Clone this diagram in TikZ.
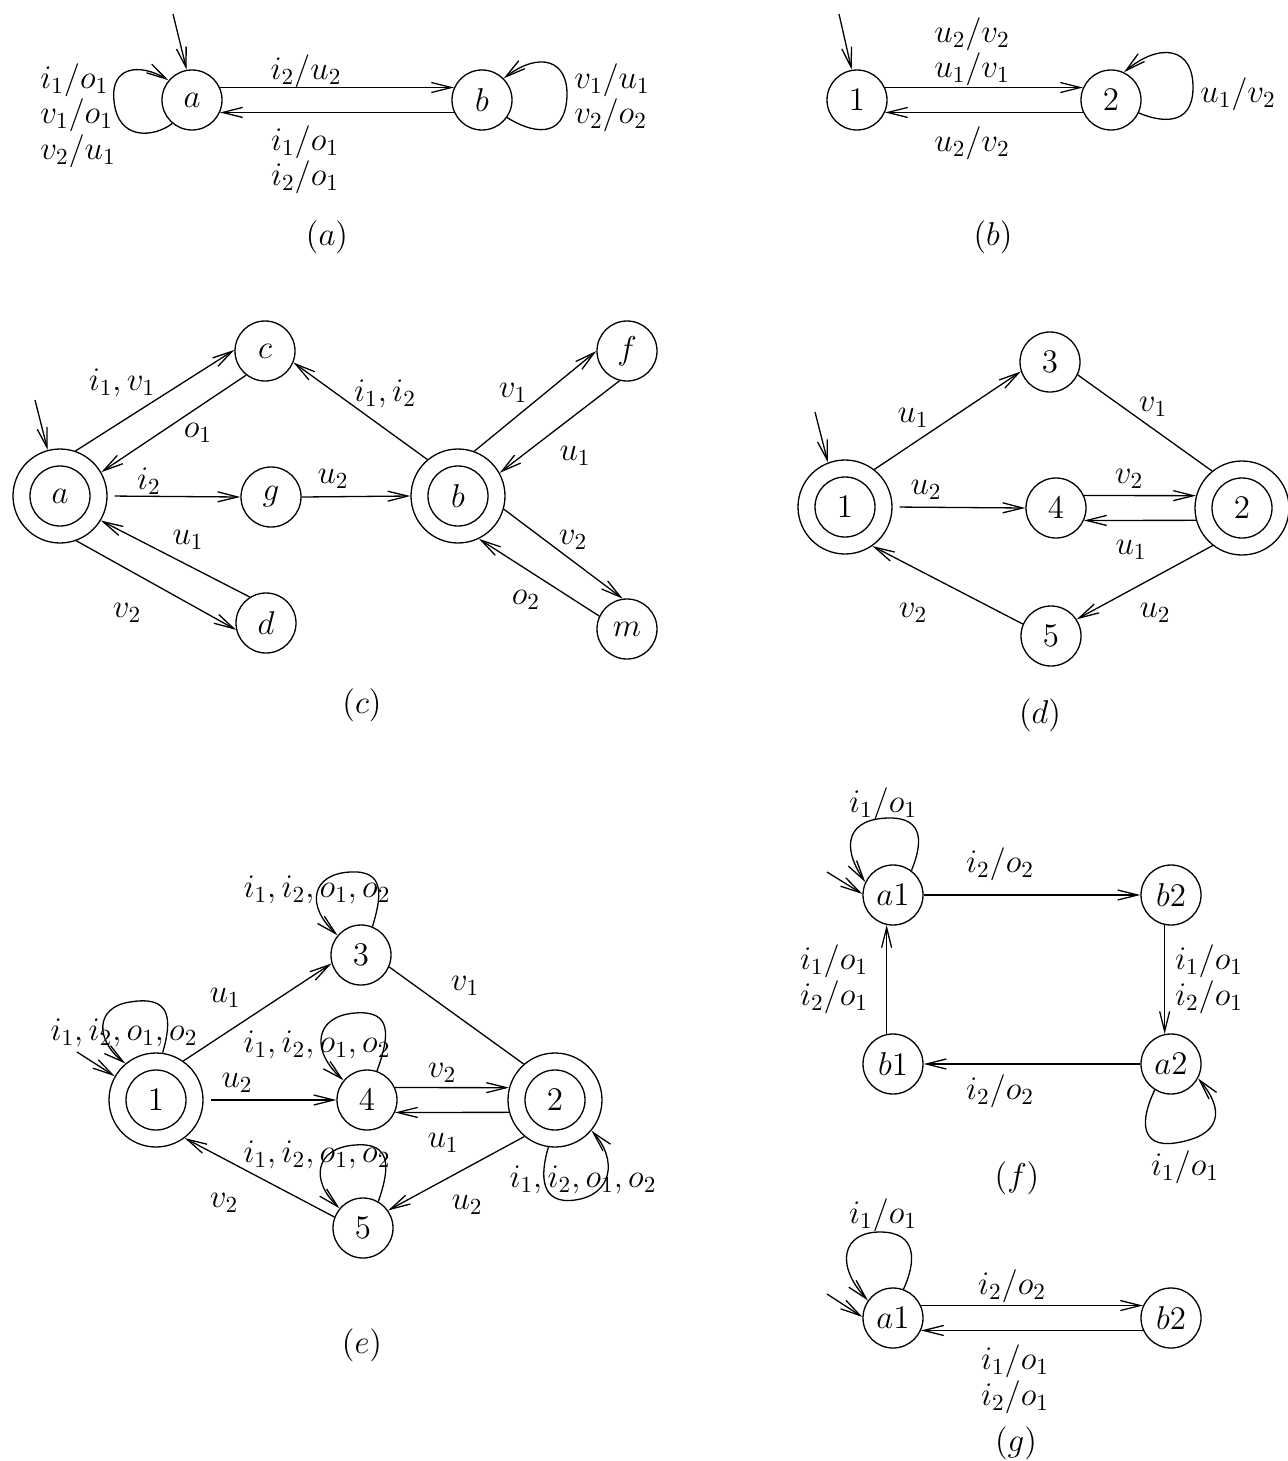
\RequirePackage{fix-cm}
\documentclass[tikz,border=0pt]{standalone}
\usetikzlibrary{arrows.meta}
\tikzset{
  st/.style={circle,draw,line width=0.65pt,inner sep=0pt,minimum size=30pt},
  acc/.style={circle,draw,line width=0.65pt,inner sep=0pt,minimum size=47pt},
  lbl/.style={inner sep=0pt},
  edge/.style={draw,line width=0.65pt,-{Straight Barb[length=10pt,width=5pt]}},
  plain/.style={draw,line width=0.65pt},
  gapstart/.style={shorten <=3.5pt}
}
\begin{document}
\begin{tikzpicture}[x=0.5pt,y=-0.5pt,font=\fontsize{16.5}{19}\selectfont]
\path[use as bounding box] (0,0) rectangle (1288,1461);

% ---------------- (a)
\node[st] (a) at (192,100) {$a$};
\node[st] (b) at (482,100) {$b$};
\coordinate (ai) at (173,14);
\draw[edge] (ai) -- (a.100);
\draw[edge] (a.24) -- (b.156);
\draw[edge] (b.204) -- (a.-24);
\draw[edge] (a.230) .. controls (155,137) and (118,142) .. (114,101) .. controls (110,66) and (140,63) .. (a.140);
\draw[edge] (b.-35) .. controls (530,132) and (565,142) .. (567,96) .. controls (568,60) and (540,51) .. (b.45);
\node[lbl] (la1) at (306,71) {$i_2/u_2$};
\node[lbl] (la2) at (305,142) {$i_1/o_1$};
\node[lbl] (la3) at (305,177) {$i_2/o_1$};
\node[lbl,anchor=west] (la4) at (40,80) {$i_1/o_1$};
\node[lbl,anchor=west] (la5) at (40,115) {$v_1/o_1$};
\node[lbl,anchor=west] (la6) at (40,151) {$v_2/u_1$};
\node[lbl,anchor=west] (la7) at (574,80) {$v_1/u_1$};
\node[lbl,anchor=west] (la8) at (574,115) {$v_2/o_2$};
\node[lbl] (capa) at (327,237) {$(a)$};

% ---------------- (b)
\node[st] (n1) at (857,100) {$1$};
\node[st] (n2) at (1111,100) {$2$};
\coordinate (bi) at (839,14);
\draw[edge] (bi) -- (n1.100);
\draw[edge] (n1.24) -- (n2.156);
\draw[edge] (n2.204) -- (n1.-24);
\draw[edge] (n2.-25) .. controls (1160,122) and (1192,127) .. (1193,89) .. controls (1194,47) and (1160,42) .. (n2.65);
\node[lbl] (lb1) at (972,34) {$u_2/v_2$};
\node[lbl] (lb2) at (972,69) {$u_1/v_1$};
\node[lbl] (lb3) at (972,143) {$u_2/v_2$};
\node[lbl] (lb4) at (1238,94) {$u_1/v_2$};
\node[lbl] (capb) at (993,237) {$(b)$};

% ---------------- (c)
\node[acc] (ca) at (60,496) {};
\node[st] (cai) at (ca) {$a$};
\node[st] (cc) at (265,351) {$c$};
\node[st] (cg) at (271,497) {$g$};
\node[st] (cd) at (266,623) {$d$};
\node[acc] (cb) at (458,496) {};
\node[st] (cbi) at (cb) {$b$};
\node[st] (cf) at (627,351) {$f$};
\node[st] (cm) at (627,629) {$m$};
\coordinate (ci) at (35,400);
\draw[edge] (ci) -- (ca.105);
\draw[edge] (ca.71) -- (cc.178);
\draw[edge] (cc.232) -- (ca.30);
\draw[edge,gapstart] (ca.east) -- (cg.west);
\draw[edge] (cg.east) -- (cb.west);
\draw[edge] (cb.130) -- (cc.-22);
\draw[edge] (cb.70) -- (cf.180);
\draw[edge] (cf.256) -- (cb.29);
\draw[edge] (cb.-16) -- (cm.98);
\draw[edge] (cm.155) -- (cb.-64);
\draw[edge] (cd.122) -- (ca.-31);
\draw[edge] (ca.-70) -- (cd.193);
\node[lbl] (lc1) at (122,383) {$i_1,v_1$};
\node[lbl] (lc2) at (198,433) {$o_1$};
\node[lbl] (lc3) at (149,481) {$i_2$};
\node[lbl] (lc4) at (333,479) {$u_2$};
\node[lbl] (lc5) at (385,394) {$i_1,i_2$};
\node[lbl] (lc6) at (188,540) {$u_1$};
\node[lbl] (lc7) at (127,613) {$v_2$};
\node[lbl] (lc8) at (513,393) {$v_1$};
\node[lbl] (lc9) at (575,456) {$u_1$};
\node[lbl] (lc10) at (573,540) {$v_2$};
\node[lbl] (lc11) at (526,600) {$o_2$};
\node[lbl] (capc) at (362,705) {$(c)$};

% ---------------- (d)
\node[acc] (d1) at (845,507) {};
\node[st] (d1i) at (d1) {$1$};
\node[st] (d3) at (1050,362) {$3$};
\node[st] (d4) at (1056,508) {$4$};
\node[acc] (d2) at (1242,508) {};
\node[st] (d2i) at (d2) {$2$};
\node[st] (d5) at (1051,636) {$5$};
\coordinate (di) at (815,412);
\draw[edge] (di) -- (d1.111);
\draw[edge] (d1.52) -- (d3.198);
\draw[plain] (d3.-25) -- (d2.129);
\draw[edge,gapstart] (d1.east) -- (d4.west);
\draw[edge] (d4.24) -- (d2.165);
\draw[edge] (d2.195) -- (d4.-24);
\draw[edge] (d2.232) -- (d5.33);
\draw[edge] (d5.157) -- (d1.-55);
\node[lbl] (ld1) at (913,418) {$u_1$};
\node[lbl] (ld2) at (1153,407) {$v_1$};
\node[lbl] (ld3) at (926,490) {$u_2$};
\node[lbl] (ld4) at (1129,479) {$v_2$};
\node[lbl] (ld5) at (1131,550) {$u_1$};
\node[lbl] (ld6) at (913,613) {$v_2$};
\node[lbl] (ld7) at (1155,613) {$u_2$};
\node[lbl] (capd) at (1040,715) {$(d)$};

% ---------------- (e)
\node[acc] (e1) at (156,1100) {};
\node[st] (e1i) at (e1) {$1$};
\node[st] (e3) at (361,955) {$3$};
\node[st] (e4) at (367,1100) {$4$};
\node[acc] (e2) at (555,1100) {};
\node[st] (e2i) at (e2) {$2$};
\node[st] (e5) at (363,1228) {$5$};
\coordinate (ei) at (77,1052);
\draw[edge] (ei) -- (e1.150);
\draw[edge] (e1.55) -- (e3.196);
\draw[plain] (e3.-23) -- (e2.131);
\draw[edge,gapstart] (e1.east) -- (e4.west);
\draw[edge] (e4.24) -- (e2.165);
\draw[edge] (e2.195) -- (e4.-24);
\draw[edge] (e2.230) -- (e5.35);
\draw[edge] (e5.159) -- (e1.-53);
\draw[edge] (e1.82) .. controls (172,1020) and (172,995) .. (130,1002) .. controls (95,1007) and (95,1040) .. (e1.130);
\draw[edge] (e3.68) .. controls (382,895) and (385,870) .. (350,872) .. controls (312,874) and (305,905) .. (e3.140);
\draw[edge] (e4.71) .. controls (390,1035) and (392,1010) .. (355,1013) .. controls (315,1016) and (310,1050) .. (e4.140);
\draw[edge] (e5.60) .. controls (390,1168) and (392,1142) .. (355,1145) .. controls (315,1148) and (310,1180) .. (e5.140);
\draw[edge] (e2.262) .. controls (540,1175) and (540,1205) .. (575,1200) .. controls (612,1195) and (618,1160) .. (e2.-40);
\node[lbl] (le1) at (317,890) {$i_1,i_2,o_1,o_2$};
\node[lbl] (le2) at (124,1033) {$i_1,i_2,o_1,o_2$};
\node[lbl] (le3) at (317,1045) {$i_1,i_2,o_1,o_2$};
\node[lbl] (le4) at (317,1155) {$i_1,i_2,o_1,o_2$};
\node[lbl] (le5) at (583,1180) {$i_1,i_2,o_1,o_2$};
\node[lbl] (le6) at (225,998) {$u_1$};
\node[lbl] (le7) at (465,986) {$v_1$};
\node[lbl] (le8) at (237,1083) {$u_2$};
\node[lbl] (le9) at (442,1073) {$v_2$};
\node[lbl] (le10) at (443,1143) {$u_1$};
\node[lbl] (le11) at (467,1205) {$u_2$};
\node[lbl] (le12) at (224,1203) {$v_2$};
\node[lbl] (cape) at (362,1345) {$(e)$};

% ---------------- (f)
\node[st] (fa1) at (893,895) {$a1$};
\node[st] (fb2) at (1171,895) {$b2$};
\node[st] (fb1) at (893,1064) {$b1$};
\node[st] (fa2) at (1171,1064) {$a2$};
\coordinate (fi) at (827,872);
\draw[edge] (fi) -- (fa1.178);
\draw[edge] (fa1.east) -- (fb2.west);
\draw[edge] (fb2.258) -- (fa2.102);
\draw[edge] (fa2.west) -- (fb1.east);
\draw[edge] (fb1.102) -- (fa1.258);
\draw[edge] (fa1.53) .. controls (922,845) and (925,818) .. (890,818) .. controls (848,818) and (840,845) .. (fa1.155);
\draw[edge] (fa2.238) .. controls (1140,1120) and (1140,1148) .. (1175,1143) .. controls (1222,1136) and (1225,1110) .. (fa2.-28);
\node[lbl] (lf1) at (883,804) {$i_1/o_1$};
\node[lbl] (lf2) at (1000,864) {$i_2/o_2$};
\node[lbl] (lf3) at (834,961) {$i_1/o_1$};
\node[lbl] (lf4) at (834,997) {$i_2/o_1$};
\node[lbl] (lf5) at (1209,961) {$i_1/o_1$};
\node[lbl] (lf6) at (1209,997) {$i_2/o_1$};
\node[lbl] (lf7) at (1000,1091) {$i_2/o_2$};
\node[lbl] (lf8) at (1185,1167) {$i_1/o_1$};
\node[lbl] (capf) at (1017,1178) {$(f)$};

% ---------------- (g)
\node[st] (ga1) at (893,1318) {$a1$};
\node[st] (gb2) at (1171,1318) {$b2$};
\coordinate (gi) at (827,1294);
\draw[edge] (gi) -- (ga1.178);
\draw[edge] (ga1.24) -- (gb2.156);
\draw[edge] (gb2.204) -- (ga1.-24);
\draw[edge] (ga1.70) .. controls (916,1262) and (918,1232) .. (880,1232) .. controls (842,1232) and (835,1265) .. (ga1.145);
\node[lbl] (lg1) at (883,1215) {$i_1/o_1$};
\node[lbl] (lg2) at (1012,1286) {$i_2/o_2$};
\node[lbl] (lg3) at (1015,1361) {$i_1/o_1$};
\node[lbl] (lg4) at (1015,1397) {$i_2/o_1$};
\node[lbl] (capg) at (1016,1443) {$(g)$};
\end{tikzpicture}
\end{document}
